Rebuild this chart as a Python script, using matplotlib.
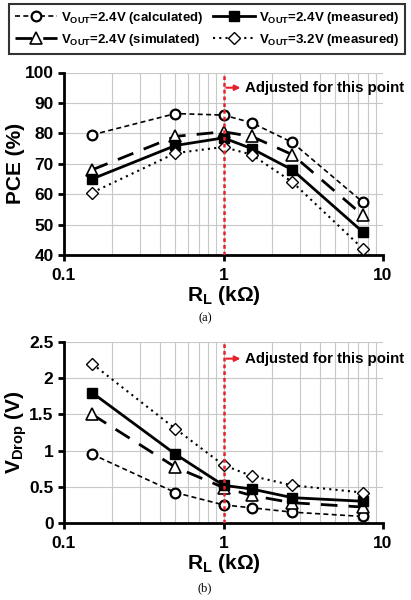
import matplotlib
matplotlib.use("Agg")
import matplotlib.pyplot as plt
from matplotlib.ticker import FixedLocator, NullFormatter, LogLocator
from matplotlib.lines import Line2D

plt.rcParams['font.family'] = ['Liberation Sans', 'DejaVu Sans']
plt.rcParams['font.weight'] = 'bold'
plt.rcParams['mathtext.fontset'] = 'custom'
plt.rcParams['mathtext.rm'] = 'Liberation Sans:bold'
plt.rcParams['mathtext.bf'] = 'Liberation Sans:bold'
plt.rcParams['mathtext.it'] = 'Liberation Sans:bold'

rl = [0.15, 0.5, 1.0, 1.5, 2.7, 7.5]

pce_calc = [79.5, 86.5, 86.0, 83.5, 77.0, 57.3]
pce_sim = [68.0, 79.0, 80.5, 79.0, 73.0, 53.0]
pce_meas24 = [65.0, 76.0, 78.5, 75.0, 68.0, 47.5]
pce_meas32 = [60.5, 73.5, 75.5, 73.0, 64.0, 42.0]

vd_calc = [0.95, 0.42, 0.25, 0.21, 0.15, 0.09]
vd_sim = [1.5, 0.77, 0.49, 0.38, 0.28, 0.22]
vd_meas24 = [1.8, 0.95, 0.52, 0.47, 0.35, 0.30]
vd_meas32 = [2.2, 1.3, 0.8, 0.65, 0.52, 0.42]

labels = [r"V$_{\mathrm{OUT}}$=2.4V (calculated)",
          r"V$_{\mathrm{OUT}}$=2.4V (simulated)",
          r"V$_{\mathrm{OUT}}$=2.4V (measured)",
          r"V$_{\mathrm{OUT}}$=3.2V (measured)"]

styles = {
    'calc': dict(color='black', lw=1.2, dashes=(3, 2), marker='o', ms=7, mfc='white', mec='black', mew=1.6),
    'sim': dict(color='black', lw=2.0, dashes=(6, 4), marker='^', ms=8.5, mfc='white', mec='black', mew=1.2),
    'meas24': dict(color='black', lw=2.0, ls='-', marker='s', ms=6.5, mfc='black', mec='black'),
    'meas32': dict(color='black', lw=1.5, ls=(0, (1, 2)), marker='D', ms=6, mfc='white', mec='black', mew=1.0),
}

fig = plt.figure(figsize=(4.11, 6.0), dpi=100)
ax1 = fig.add_axes([64/411, 1-255/600, (383-64)/411, (255-72.5)/600])
ax2 = fig.add_axes([64/411, 1-523/600, (383-64)/411, (523-342)/600])

def style_ax(ax, ylim, yticks, yticklabels, ylabel):
    ax.set_xscale('log')
    ax.set_xlim(0.1, 10)
    ax.set_ylim(*ylim)
    ax.set_yticks(yticks)
    ax.set_yticklabels(yticklabels)
    ax.xaxis.set_major_locator(FixedLocator([0.1, 1, 10]))
    ax.xaxis.set_minor_locator(LogLocator(base=10, subs=range(2, 10)))
    ax.xaxis.set_minor_formatter(NullFormatter())
    ax.set_xticklabels(['0.1', '1', '10'])
    ax.grid(True, which='both', axis='x', color='#c8c8c8', lw=0.8)
    ax.grid(True, which='major', axis='y', color='#c8c8c8', lw=0.8)
    ax.set_axisbelow(True)
    for s in ['top', 'right']:
        ax.spines[s].set_visible(False)
    for s in ['left', 'bottom']:
        ax.spines[s].set_linewidth(2.0)
    ax.tick_params(axis='both', which='major', labelsize=12.5, width=2, length=4, direction='out')
    ax.tick_params(axis='x', which='major', pad=5)
    ax.tick_params(axis='x', which='minor', length=0)
    for t in ax.get_xticklabels() + ax.get_yticklabels():
        t.set_fontweight('bold')
    ax.set_xlabel(r"R$_{\mathrm{L}}$ (kΩ)", fontsize=15, fontweight='bold', labelpad=1)
    ax.set_ylabel(ylabel, fontsize=15, fontweight='bold', labelpad=0)

def draw(ax, series, ytxt):
    for key, vals in series:
        st = dict(styles[key])
        ax.plot(rl, vals, clip_on=False, zorder=3, **st)
    ax.axvline(1.0, color='#e8202a', lw=1.8, ls=(0, (1.5, 1.2)), zorder=4)
    ax.annotate('', xy=(1.33, ytxt), xytext=(1.0, ytxt),
                arrowprops=dict(arrowstyle='-|>', color='#e8202a', lw=1.5, mutation_scale=8), zorder=5)
    ax.text(1.37, ytxt, 'Adjusted for this point', fontsize=10.8, fontweight='bold', va='center', ha='left', zorder=5)

style_ax(ax1, (40, 100), list(range(40, 101, 10)), [str(v) for v in range(40, 101, 10)], 'PCE (%)')
draw(ax1, [('calc', pce_calc), ('sim', pce_sim), ('meas24', pce_meas24), ('meas32', pce_meas32)], 95)

style_ax(ax2, (0, 2.5), [0, 0.5, 1, 1.5, 2, 2.5], ['0', '0.5', '1', '1.5', '2', '2.5'], r"V$_{\mathrm{Drop}}$ (V)")
draw(ax2, [('calc', vd_calc), ('sim', vd_sim), ('meas24', vd_meas24), ('meas32', vd_meas32)], 2.27)

fig.text(205/411, 1-318/600, '(a)', family='Liberation Serif', fontweight='normal', fontsize=9, ha='center', va='center')
fig.text(205/411, 1-588/600, '(b)', family='Liberation Serif', fontweight='normal', fontsize=9, ha='center', va='center')

handles = [Line2D([], [], **styles['calc']), Line2D([], [], **styles['sim']),
           Line2D([], [], **styles['meas24']), Line2D([], [], **styles['meas32'])]
leg = fig.legend(handles, labels, ncol=2, loc='upper center',
                 bbox_to_anchor=(207/411, 1-4/600),
                 prop=dict(weight='bold', size=9.5), frameon=True, fancybox=False,
                 edgecolor='black', handlelength=3.2, columnspacing=0.75, handletextpad=0.25,
                 borderpad=0.45, labelspacing=0.45, borderaxespad=0)
leg.get_frame().set_linewidth(1.5)

fig.savefig('out.png', dpi=100)
